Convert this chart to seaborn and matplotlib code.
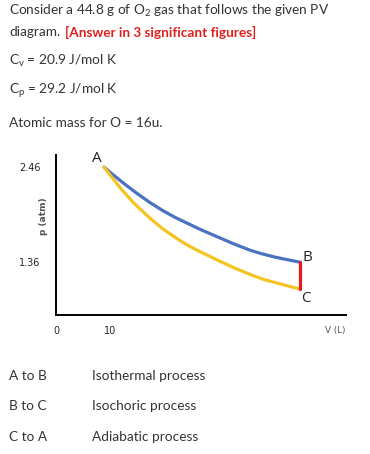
import numpy as np
import pandas as pd
import matplotlib
matplotlib.use('Agg')
import matplotlib.pyplot as plt
import seaborn as sns

# curve values (V in drawn litres, p in atm)
iso_v = [8.9, 10.0, 12.8, 14.9, 17.4, 19.7, 22.0, 26.7, 30.4, 33.0, 35.9, 38.0, 40.5, 42.8, 45.2]
iso_p = [2.46, 2.40, 2.26, 2.16, 2.05, 1.96, 1.88, 1.74, 1.64, 1.57, 1.50, 1.46, 1.42, 1.39, 1.36]
adi_v = [8.9, 10.0, 11.9, 14.3, 17.4, 19.7, 22.0, 24.0, 26.1, 30.4, 33.0, 35.9, 38.5, 41.5, 43.3, 45.2]
adi_p = [2.46, 2.37, 2.22, 2.05, 1.87, 1.75, 1.65, 1.57, 1.50, 1.37, 1.295, 1.22, 1.16, 1.11, 1.08, 1.05]
bc_v = [45.2, 45.2]
bc_p = [1.36, 1.05]

p_ticks = [2.46, 1.36]
v_ticks = [0, 10]
processes = [("A to B", "Isothermal process"),
             ("B to C", "Isochoric process"),
             ("C to A", "Adiabatic process")]

sns.set_style("white")
plt.rcParams['font.family'] = ['Lato', 'DejaVu Sans']
plt.rcParams['mathtext.fontset'] = 'custom'
plt.rcParams['mathtext.rm'] = 'Lato'
plt.rcParams['mathtext.it'] = 'Lato'

W, H = 370, 454
fig = plt.figure(figsize=(W / 100, H / 100), dpi=100)

def px(x, y):
    return x / W, 1 - y / H

txt = '#333333'
fs = 9.8
fig.text(*px(9, 11), "Consider a 44.8 g of O$_2$ gas that follows the given PV",
         fontsize=fs, color=txt, va='center')
fig.text(*px(9, 32), "diagram.", fontsize=fs, color=txt, va='center')
fig.text(*px(65, 32), "[Answer in 3 significant figures]", fontsize=fs,
         color='#e0201f', fontweight='bold', va='center')
fig.text(*px(9, 61), "C$_\\mathrm{v}$ = 20.9 J/mol K", fontsize=fs, color=txt, va='center')
fig.text(*px(9, 91), "C$_\\mathrm{p}$ = 29.2 J/mol K", fontsize=fs, color=txt, va='center')
fig.text(*px(9, 123), "Atomic mass for O = 16u.", fontsize=fs, color=txt, va='center')

for i, (a, b) in enumerate(processes):
    y = 376 + i * 30.5
    fig.text(*px(9, y), a, fontsize=fs, color=txt, va='center')
    fig.text(*px(92, y), b, fontsize=fs, color=txt, va='center')

ax = fig.add_axes([56 / W, 1 - 315 / H, 290 / W, 160 / H])
sns.lineplot(x=iso_v, y=iso_p, ax=ax, color='#4a72c0', lw=2.3, estimator=None, sort=False)
sns.lineplot(x=adi_v, y=adi_p, ax=ax, color='#f4c423', lw=2.3, estimator=None, sort=False)
sns.lineplot(x=bc_v, y=bc_p, ax=ax, color='#e0201f', lw=2.3, estimator=None, sort=False)

ax.set_xlim(0, 53.7)
ax.set_ylim(0.75, 2.60)
for s in ['top', 'right']:
    ax.spines[s].set_visible(False)
for s in ['left', 'bottom']:
    ax.spines[s].set_color('black')
    ax.spines[s].set_linewidth(1.4)

ax.set_yticks(p_ticks)
ax.set_yticklabels([f"{t:.2f}" for t in p_ticks], family='DejaVu Sans', fontsize=7)
ax.set_xticks(v_ticks)
ax.set_xticklabels([str(t) for t in v_ticks], family='DejaVu Sans', fontsize=7)
ax.tick_params(axis='y', direction='inout', length=6, width=1.2, pad=8)
ax.tick_params(axis='x', direction='inout', length=6, width=1.2, pad=5)
ax.xaxis.get_major_ticks()[0].tick1line.set_visible(False)

fig.text(*px(335, 330), "V (L)", fontsize=6.3, color='#555555', ha='center', va='center',
         family='DejaVu Sans')
fig.text(*px(44, 216), "p (atm)", fontsize=6.5, color='#555555', ha='center', va='center',
         rotation=90, family='DejaVu Sans', fontweight='bold')

ax.text(8.9 - 0.5, 2.46 + 0.01, "A", fontsize=11, ha='right', va='bottom', family='Open Sans')
ax.text(45.2 + 0.4, 1.36 + 0.06, "B", fontsize=11, ha='left', va='center', family='Open Sans')
ax.text(45.2 + 0.2, 1.05 - 0.02, "C", fontsize=11, ha='left', va='top', family='Open Sans')

fig.savefig("out.png", dpi=100)
